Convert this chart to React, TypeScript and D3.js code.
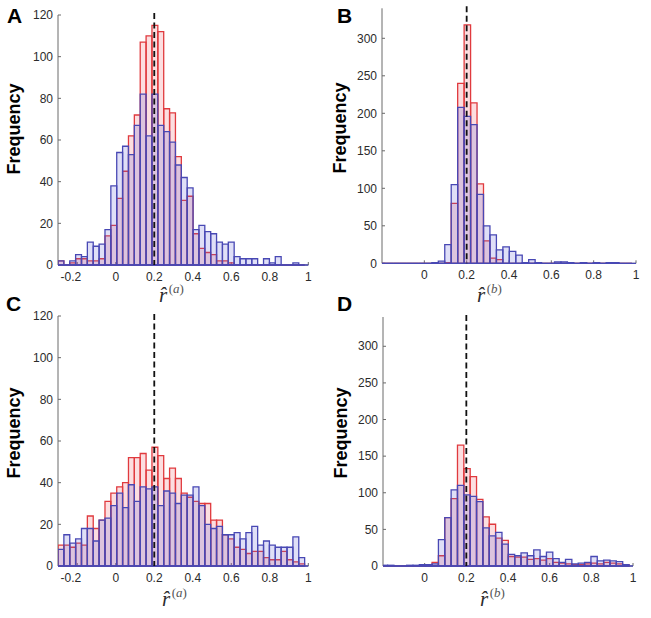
import React from "react";
import * as d3 from "d3";

// Histogram bins (shared by all four panels)
const BIN_START = -0.3;
const BIN_WIDTH = 0.0305;
const BIN_COUNT = 42;
const binLefts = d3.range(BIN_COUNT).map((i) => BIN_START + i * BIN_WIDTH);

const TRUE_VALUE = 0.2;

// Panel A
const redA = [2, 0, 1, 3, 3, 2, 2, 3, 14, 19, 32, 45, 62, 72, 107, 110, 115, 112, 75, 73, 52, 31, 33, 15, 8, 6, 5, 2, 2, 1, 0, 0, 0, 0, 0, 0, 0, 0, 0, 0, 0, 0];
const blueA = [2, 0, 2, 5, 4, 11, 9, 10, 17, 38, 54, 57, 53, 67, 82, 62, 82, 67, 64, 59, 48, 42, 37, 17, 19, 16, 15, 11, 10, 11, 4, 3, 3, 3, 0, 3, 1, 4, 0, 0, 1, 0];
// Panel B
const redB = [0, 0, 0, 0, 0, 0, 0, 0, 0, 0, 0, 0, 0, 1, 80, 240, 318, 214, 106, 30, 7, 5, 0, 0, 0, 0, 0, 0, 0, 0, 0, 0, 0, 0, 0, 0, 0, 0, 0, 0, 0, 0];
const blueB = [0, 0, 0, 0, 0, 0, 0, 0, 0, 0, 0, 1, 3, 25, 105, 208, 196, 185, 92, 50, 38, 18, 22, 16, 11, 1, 5, 1, 0, 0, 2, 2, 1, 0, 1, 0, 1, 0, 1, 1, 0, 0];
// Panel C
const redC = [10, 10, 9, 11, 10, 24, 18, 22, 31, 35, 38, 40, 52, 52, 54, 46, 57, 53, 42, 47, 42, 35, 33, 31, 30, 30, 22, 22, 15, 13, 9, 8, 6, 7, 7, 4, 3, 3, 7, 3, 2, 1];
const blueC = [8, 15, 11, 13, 18, 18, 12, 22, 23, 29, 35, 28, 39, 31, 38, 37, 38, 29, 36, 35, 30, 34, 34, 38, 29, 20, 18, 19, 15, 15, 16, 13, 16, 19, 10, 12, 10, 9, 9, 9, 14, 4];
// Panel D
const redD = [0, 0, 0, 0, 0, 0, 0, 0, 0, 0, 2, 5, 14, 66, 92, 165, 133, 122, 91, 67, 57, 38, 35, 13, 12, 12, 9, 10, 8, 10, 5, 4, 3, 2, 2, 3, 4, 3, 5, 4, 3, 2];
const blueD = [0, 0, 0, 1, 1, 0, 0, 1, 1, 2, 2, 3, 36, 66, 104, 110, 97, 95, 88, 52, 41, 46, 30, 16, 14, 18, 14, 22, 13, 19, 10, 5, 9, 3, 4, 5, 13, 7, 8, 7, 6, 2];

const xTicksA = [-0.2, 0, 0.2, 0.4, 0.6, 0.8, 1];
const xTicksB = [0, 0.2, 0.4, 0.6, 0.8, 1];
const yTicksA = [0, 20, 40, 60, 80, 100, 120];
const yTicksB = [0, 50, 100, 150, 200, 250, 300];

const SANS = "'Liberation Sans', Arial, Helvetica, sans-serif";
const SERIF = "'Liberation Serif', 'Times New Roman', serif";

const RED_STROKE = "#e03a3e";
const RED_FILL = "rgba(235, 60, 70, 0.17)";
const BLUE_STROKE = "#4848b4";
const BLUE_FILL = "rgba(95, 95, 215, 0.2)";
const AXIS = "#6a6a6a";
const TEXT = "#2b2b2b";

const panels = [
  { id: "A", red: redA, blue: blueA, xDomain: [-0.3, 1], yDomain: [0, 120], xTicks: xTicksA, yTicks: yTicksA,
    left: 58, right: 308.3, top: 15, bottom: 265, letter: [7, 23], ylab: [20, 129], xlab: [159, 302], sup: "a" },
  { id: "B", red: redB, blue: blueB, xDomain: [-0.2, 1], yDomain: [0, 340], xTicks: xTicksB, yTicks: yTicksB,
    left: 382, right: 636, top: 8.3, bottom: 263.3, letter: [337, 23], ylab: [346, 128], xlab: [477, 302], sup: "b" },
  { id: "C", red: redC, blue: blueC, xDomain: [-0.3, 1], yDomain: [0, 120], xTicks: xTicksA, yTicks: yTicksA,
    left: 58, right: 308.3, top: 316, bottom: 566, letter: [6, 311], ylab: [20, 433], xlab: [162, 606], sup: "a" },
  { id: "D", red: redD, blue: blueD, xDomain: [-0.2, 1], yDomain: [0, 340], xTicks: xTicksB, yTicks: yTicksB,
    left: 383, right: 633, top: 317, bottom: 566, letter: [337, 311], ylab: [347, 433], xlab: [480, 606], sup: "b" },
];

function barPath(x0: number, x1: number, y: number, b: number) {
  return `M${x0},${b}L${x0},${y}L${x1},${y}L${x1},${b}Z`;
}

function Panel({ p }: { p: any }) {
  const x = d3.scaleLinear().domain(p.xDomain).range([p.left, p.right]);
  const y = d3.scaleLinear().domain(p.yDomain).range([p.bottom, p.top]);
  const clipId = `clip-${p.id}`;
  const series = [
    { vals: p.red, stroke: RED_STROKE, fill: RED_FILL },
    { vals: p.blue, stroke: BLUE_STROKE, fill: BLUE_FILL },
  ];
  return (
    <g>
      <defs>
        <clipPath id={clipId}>
          <rect x={p.left} y={p.top - 10} width={p.right - p.left + 1} height={p.bottom - p.top + 12} />
        </clipPath>
      </defs>
      {/* axes */}
      <line x1={p.left} x2={p.left} y1={p.top} y2={p.bottom} stroke={AXIS} strokeWidth={1} />
      <line x1={p.left} x2={p.right} y1={p.bottom} y2={p.bottom} stroke={AXIS} strokeWidth={1} />
      {p.yTicks.map((t: number) => (
        <g key={`y${t}`}>
          <line x1={p.left} x2={p.left + 3} y1={y(t)} y2={y(t)} stroke={AXIS} strokeWidth={1} />
          <text x={p.left - 5} y={y(t)} dy="0.35em" textAnchor="end" fontFamily={SANS} fontSize={12} fill={TEXT}>
            {t}
          </text>
        </g>
      ))}
      {p.xTicks.map((t: number) => (
        <g key={`x${t}`}>
          <line x1={x(t)} x2={x(t)} y1={p.bottom} y2={p.bottom - 3} stroke={AXIS} strokeWidth={1} />
          <text
            x={t < 0 ? x(t) + 4 : x(t)}
            y={p.bottom + 16}
            textAnchor={t < 0 ? "end" : "middle"}
            fontFamily={SANS}
            fontSize={12}
            fill={TEXT}
          >
            {t < 0 ? `-${Math.abs(t)}` : `${t}`}
          </text>
        </g>
      ))}
      {/* bars */}
      <g clipPath={`url(#${clipId})`}>
        {series.map((s, si) => (
          <g key={si}>
            {binLefts.map((b0, i) => (
              <path
                key={i}
                d={barPath(x(b0), x(b0 + BIN_WIDTH), y(s.vals[i]), p.bottom)}
                fill={s.fill}
                stroke={s.stroke}
                strokeWidth={1.3}
              />
            ))}
          </g>
        ))}
        <line x1={p.left} x2={p.right} y1={p.bottom} y2={p.bottom} stroke={BLUE_STROKE} strokeWidth={1.3} />
      </g>
      {/* true value */}
      <line
        x1={x(TRUE_VALUE)}
        x2={x(TRUE_VALUE)}
        y1={p.top - 2}
        y2={p.bottom}
        stroke="#111"
        strokeWidth={1.8}
        strokeDasharray="6 3.5"
      />
      {/* labels */}
      <text x={p.letter[0]} y={p.letter[1]} fontFamily={SANS} fontWeight="bold" fontSize={21} fill="#000">
        {p.id}
      </text>
      <text
        transform={`translate(${p.ylab[0]},${p.ylab[1]}) rotate(-90)`}
        textAnchor="middle"
        fontFamily={SANS}
        fontWeight="bold"
        fontSize={18}
        fill="#000"
      >
        Frequency
      </text>
      <text x={p.xlab[0]} y={p.xlab[1]} fontFamily={SERIF} fill={TEXT}>
        <tspan fontSize={21} fontStyle="italic">{"r\u0302"}</tspan>
        <tspan fontSize={13} dy={-9} dx={1.5} fill="#555">
          (<tspan fontStyle="italic">{p.sup}</tspan>)
        </tspan>
      </text>
    </g>
  );
}

export default function App() {
  return (
    <svg
      width={651}
      height={618}
      viewBox="0 0 651 618"
      style={{ display: "block", position: "absolute", left: 0, top: 0, background: "#fff" }}
    >
      <rect width={651} height={618} fill="#fff" />
      {panels.map((p) => (
        <Panel key={p.id} p={p} />
      ))}
    </svg>
  );
}
